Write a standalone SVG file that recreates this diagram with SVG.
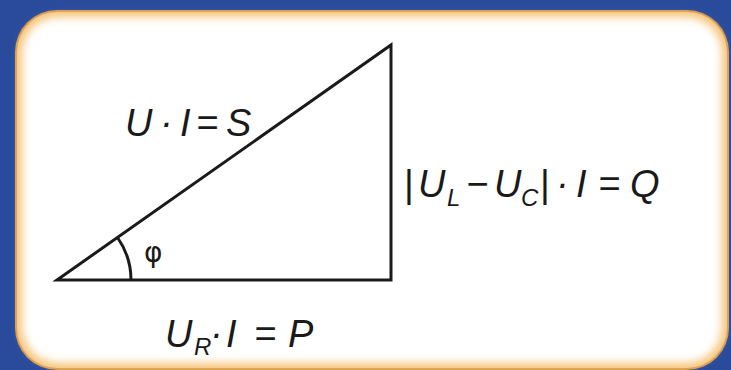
<svg xmlns="http://www.w3.org/2000/svg" width="731" height="370" viewBox="0 0 731 370">
<defs>
<filter id="soft" x="-5%" y="-5%" width="110%" height="110%"><feGaussianBlur stdDeviation="4"/></filter>
<style>
.ln{fill:none;stroke:#1a1a1a;stroke-width:3;stroke-linejoin:miter}
.t{font-family:"Liberation Sans",Arial,sans-serif;font-style:italic;fill:#1a1a1a;font-size:38px}
.s{font-size:24px}
.n{font-style:normal}
</style>
</defs>
<rect width="731" height="370" fill="#2a4b9c"/>
<g id="panel">
<rect x="15" y="10" width="714" height="360" rx="42" fill="#d99a45"/>
<rect x="17" y="12" width="710" height="356" rx="40" fill="#f6c47a"/>
<rect x="22" y="17" width="700" height="346" rx="36" fill="#ffffff" filter="url(#soft)"/>
</g>
<g id="triangle">
<path class="ln" d="M57,280 L391,45 L391,280 Z"/>
<path class="ln" d="M131,280 A74,74 0 0 0 117.5,237.5" stroke-width="2.5"/>
</g>
<g id="labels">
<text class="t" y="136"><tspan x="125">U</tspan><tspan x="160">·</tspan><tspan x="180">I</tspan><tspan x="196">=</tspan><tspan x="226">S</tspan></text>
<text x="144" y="262" font-family="'DejaVu Sans',sans-serif" font-size="28" fill="#1a1a1a">φ</text>
<text class="t" y="197"><tspan class="n" x="404">|</tspan><tspan x="418">U</tspan><tspan class="s" x="447" dy="9">L</tspan><tspan x="466" dy="-9">−</tspan><tspan x="494">U</tspan><tspan class="s" x="521" dy="9">C</tspan><tspan class="n" x="540" dy="-9">|</tspan><tspan x="556">·</tspan><tspan x="576">I</tspan><tspan x="598">=</tspan><tspan x="630">Q</tspan></text>
<text class="t" y="347"><tspan x="165">U</tspan><tspan class="s" x="194" dy="8">R</tspan><tspan x="210" dy="-8">·</tspan><tspan x="226">I</tspan><tspan x="254">=</tspan><tspan x="288">P</tspan></text>
</g>
</svg>
